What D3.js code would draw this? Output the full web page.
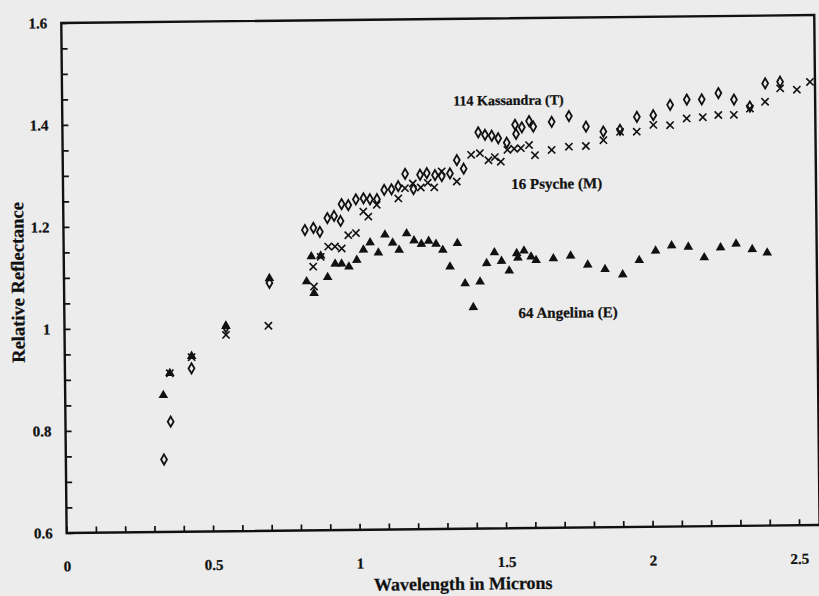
<!DOCTYPE html>
<html>
<head>
<meta charset="utf-8">
<script src="https://cdn.jsdelivr.net/npm/d3@7"></script>
<style>
  body { margin: 0; background: #ececec; }
  text { font-family: "Liberation Serif", "DejaVu Serif", serif; font-weight: bold; fill: #111; stroke: #111; stroke-width: 0.25px; }
</style>
</head>
<body>
<svg></svg>
<script>
// [wavelength (microns), relative reflectance]
let kassandra = [
  [0.335, 0.742], [0.359, 0.816], [0.432, 0.920], [0.551, 1.000], [0.701, 1.086],
  [0.824, 1.189], [0.853, 1.193], [0.875, 1.185], [0.901, 1.212], [0.924, 1.216],
  [0.946, 1.206], [0.950, 1.239], [0.973, 1.237], [0.999, 1.248], [1.025, 1.250],
  [1.047, 1.248], [1.071, 1.248], [1.096, 1.266], [1.121, 1.267], [1.144, 1.273],
  [1.168, 1.297], [1.196, 1.267], [1.219, 1.295], [1.242, 1.298], [1.270, 1.294],
  [1.293, 1.292], [1.321, 1.297], [1.345, 1.323], [1.368, 1.306], [1.419, 1.377],
  [1.442, 1.372], [1.465, 1.370], [1.487, 1.365], [1.516, 1.356], [1.545, 1.391],
  [1.548, 1.373], [1.568, 1.386], [1.593, 1.398], [1.607, 1.387], [1.670, 1.396],
  [1.729, 1.407], [1.787, 1.386], [1.846, 1.376], [1.903, 1.379], [1.961, 1.404],
  [2.017, 1.407], [2.075, 1.427], [2.132, 1.437], [2.183, 1.437], [2.240, 1.449],
  [2.293, 1.436], [2.347, 1.422], [2.400, 1.467], [2.451, 1.470]
];

let psyche = [
  [0.358, 0.911], [0.433, 0.942], [0.551, 0.985], [0.696, 1.002], [0.851, 1.117],
  [0.853, 1.078], [0.877, 1.136], [0.903, 1.156], [0.926, 1.156], [0.949, 1.152],
  [0.972, 1.178], [0.998, 1.182], [1.024, 1.224], [1.041, 1.214], [1.070, 1.237],
  [1.144, 1.249], [1.167, 1.269], [1.194, 1.278], [1.221, 1.270], [1.245, 1.279],
  [1.267, 1.270], [1.293, 1.301], [1.344, 1.281], [1.394, 1.333], [1.424, 1.336],
  [1.453, 1.322], [1.475, 1.328], [1.495, 1.319], [1.518, 1.342], [1.541, 1.344],
  [1.564, 1.345], [1.592, 1.351], [1.612, 1.331], [1.669, 1.341], [1.728, 1.347],
  [1.786, 1.348], [1.846, 1.359], [1.903, 1.375], [1.960, 1.375], [2.017, 1.388],
  [2.074, 1.387], [2.131, 1.400], [2.186, 1.402], [2.239, 1.406], [2.292, 1.406],
  [2.347, 1.418], [2.399, 1.431], [2.451, 1.457], [2.508, 1.454], [2.553, 1.469]
];

let angelina = [
  [0.335, 0.868], [0.358, 0.911], [0.433, 0.944], [0.551, 1.002], [0.701, 1.095],
  [0.828, 1.088], [0.845, 1.137], [0.853, 1.065], [0.877, 1.138], [0.900, 1.096],
  [0.926, 1.122], [0.948, 1.122], [0.973, 1.116], [1.000, 1.129], [1.023, 1.149],
  [1.046, 1.163], [1.074, 1.143], [1.097, 1.178], [1.123, 1.162], [1.145, 1.148],
  [1.171, 1.180], [1.196, 1.166], [1.221, 1.159], [1.246, 1.165], [1.271, 1.159],
  [1.294, 1.147], [1.318, 1.114], [1.344, 1.160], [1.369, 1.081], [1.396, 1.034],
  [1.420, 1.084], [1.443, 1.120], [1.470, 1.141], [1.494, 1.124], [1.520, 1.105],
  [1.546, 1.139], [1.550, 1.130], [1.571, 1.144], [1.595, 1.132], [1.612, 1.125],
  [1.671, 1.128], [1.730, 1.133], [1.788, 1.115], [1.847, 1.106], [1.907, 1.095],
  [1.964, 1.123], [2.020, 1.141], [2.075, 1.151], [2.132, 1.148], [2.186, 1.127],
  [2.242, 1.146], [2.295, 1.153], [2.350, 1.142], [2.401, 1.135]
];

let xLabels = [0, 0.5, 1, 1.5, 2, 2.5];
let yLabels = [0.6, 0.8, 1, 1.2, 1.4, 1.6];
let seriesNames = ["114 Kassandra (T)", "16 Psyche (M)", "64 Angelina (E)"];

let width = 819;
let height = 596;

let svg = d3.select("svg")
            .attr("width", width)
            .attr("height", height);

svg.append("rect")
   .attr("width", width)
   .attr("height", height)
   .attr("fill", "#ececec");

// the scanned page is slightly rotated
let g = svg.append("g")
           .attr("transform", "rotate(-0.6, 440, 280)");

let xScale = d3.scaleLinear()
               .domain([0, 2.57])
               .range([64, 817]);

let yScale = d3.scaleLinear()
               .domain([0.6, 1.6])
               .range([529, 19]);

let isLabel = (list, d) => list.some(v => Math.abs(v - d) < 1e-6);

// x axis
let xTicks = d3.range(0, 26).map(i => i / 10);
g.append("g")
 .attr("transform", `translate(0,${yScale(0.6)})`)
 .call(d3.axisBottom(xScale)
         .tickValues(xTicks)
         .tickSize(-6)
         .tickPadding(28)
         .tickFormat(d => isLabel(xLabels, d) ? String(d) : ""))
 .call(ax => ax.select(".domain").remove());

// y axis
let yTicks = d3.range(0, 21).map(i => Math.round((0.6 + i * 0.05) * 100) / 100);
g.append("g")
 .attr("transform", `translate(${xScale(0)},0)`)
 .call(d3.axisLeft(yScale)
         .tickValues(yTicks)
         .tickSize(-6)
         .tickPadding(14)
         .tickFormat(d => isLabel(yLabels, d) ? String(d) : ""))
 .call(ax => ax.select(".domain").remove());

g.selectAll(".tick line")
 .attr("stroke", "#111")
 .attr("stroke-width", 1.7);

g.selectAll(".tick text")
 .style("font-family", "'Liberation Serif', serif")
 .style("font-weight", "bold")
 .style("font-size", "15px")
 .attr("fill", "#111");

// plot frame
g.append("rect")
 .attr("x", xScale(0))
 .attr("y", yScale(1.6))
 .attr("width", xScale(2.57) - xScale(0))
 .attr("height", yScale(0.6) - yScale(1.6))
 .attr("fill", "none")
 .attr("stroke", "#111")
 .attr("stroke-width", 2.4);

// markers
let diamond = d3.symbol().type(d3.symbolDiamond).size(30);
let cross = d3.symbol().type(d3.symbolTimes).size(36);
let triangle = d3.symbol().type(d3.symbolTriangle).size(40);

g.selectAll(".kassandra")
 .data(kassandra)
 .enter()
 .append("path")
   .classed("kassandra", true)
   .attr("d", diamond)
   .attr("transform", d => `translate(${xScale(d[0])},${yScale(d[1])})`)
   .attr("fill", "none")
   .attr("stroke", "#111")
   .attr("stroke-width", 1.8);

g.selectAll(".psyche")
 .data(psyche)
 .enter()
 .append("path")
   .classed("psyche", true)
   .attr("d", cross)
   .attr("transform", d => `translate(${xScale(d[0])},${yScale(d[1])})`)
   .attr("fill", "none")
   .attr("stroke", "#111")
   .attr("stroke-width", 1.6);

g.selectAll(".angelina")
 .data(angelina)
 .enter()
 .append("path")
   .classed("angelina", true)
   .attr("d", triangle)
   .attr("transform", d => `translate(${xScale(d[0])},${yScale(d[1])})`)
   .attr("fill", "#111");

// series labels
let labelPos = [[1.335, 1.43], [1.53, 1.265], [1.55, 1.012]];
let labelSize = [14, 15, 15];
g.selectAll(".series-label")
 .data(seriesNames)
 .enter()
 .append("text")
   .classed("series-label", true)
   .attr("x", (d, i) => xScale(labelPos[i][0]))
   .attr("y", (d, i) => yScale(labelPos[i][1]))
   .style("font-size", (d, i) => labelSize[i] + "px")
   .text(d => d);

// axis titles
g.append("text")
 .attr("x", 460)
 .attr("y", 590)
 .attr("text-anchor", "middle")
 .style("font-size", "18px")
 .text("Wavelength in Microns");

g.append("text")
 .attr("transform", "rotate(-90)")
 .attr("x", -278)
 .attr("y", 24)
 .attr("text-anchor", "middle")
 .style("font-size", "18.5px")
 .text("Relative Reflectance");
</script>
</body>
</html>
